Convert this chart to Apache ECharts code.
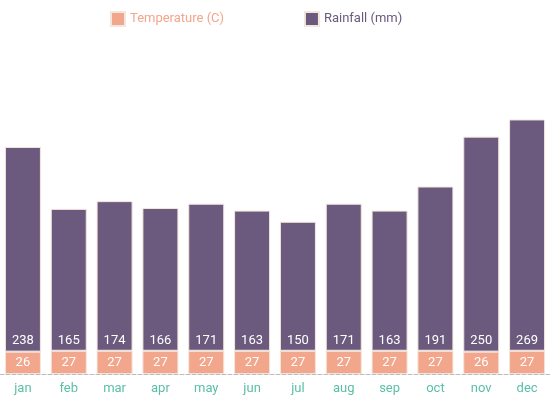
<!DOCTYPE html>
<html><head><meta charset="utf-8">
<script src="https://cdn.jsdelivr.net/npm/echarts@6/dist/echarts.min.js"></script>
<style>html,body{margin:0;padding:0;background:#fff}#c{width:550px;height:400px}</style>
</head><body><div id="c"></div>
<script>
const months = ['jan','feb','mar','apr','may','jun','jul','aug','sep','oct','nov','dec'];
const temperature = [26,27,27,27,27,27,27,27,27,27,26,27];
const rainfall = [238,165,174,166,171,163,150,171,163,191,250,269];
const chart = echarts.init(document.getElementById('c'));
chart.setOption({
  animation:false,
  legend:{top:6,left:105,itemGap:80,itemWidth:14,itemHeight:14,icon:'rect',
    textStyle:{fontFamily:'Roboto',fontSize:13,color:'inherit'},
    data:[{name:'Temperature (C)',textStyle:{color:'#F2A68C'}},{name:'Rainfall (mm)',textStyle:{color:'#6B5A7E'}}]},
  grid:{left:-7,right:0,top:116,bottom:26,containLabel:false},
  xAxis:{type:'category',data:months,axisTick:{show:false},
    axisLine:{lineStyle:{color:'#bbb',type:'dashed'}},
    axisLabel:{color:'#5BBFA8',fontFamily:'Roboto',fontSize:13,margin:8}},
  yAxis:{type:'value',min:0,max:300,show:false,splitLine:{show:false}},
  series:[
    {name:'Temperature (C)',type:'bar',stack:'a',data:temperature,barWidth:36,
     itemStyle:{color:'#F2A68C',borderColor:'#f3e6dc',borderWidth:1},
     label:{show:true,position:'inside',color:'#fff',fontFamily:'Roboto',fontSize:13}},
    {name:'Rainfall (mm)',type:'bar',stack:'a',data:rainfall,barWidth:36,
     itemStyle:{color:'#6B5A7E',borderColor:'#f3e6dc',borderWidth:1},
     label:{show:true,position:'insideBottom',distance:4,color:'#fff',fontFamily:'Roboto',fontSize:13}}
  ]
});
</script></body></html>
